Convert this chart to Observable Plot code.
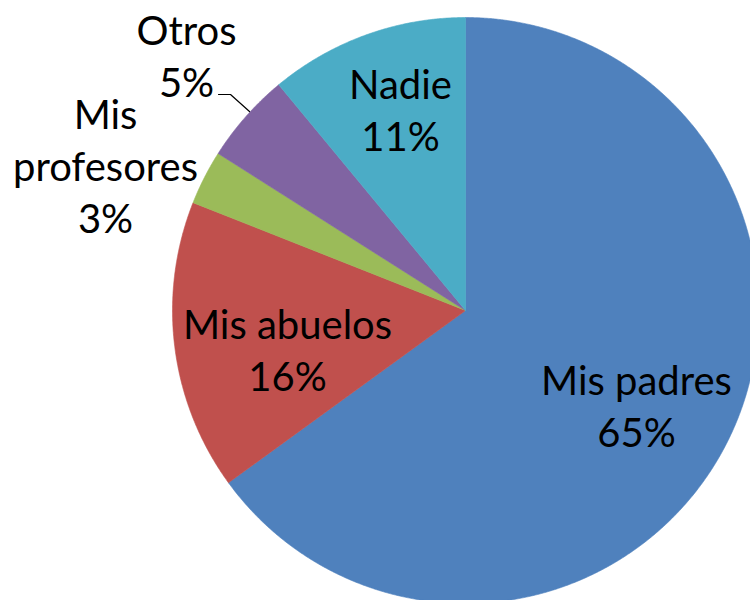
<!DOCTYPE html>
<html>
<head>
<meta charset="utf-8">
<script src="https://cdn.jsdelivr.net/npm/d3@7"></script>
<script src="https://cdn.jsdelivr.net/npm/@observablehq/plot@0.6"></script>
<style>
  html, body { margin: 0; padding: 0; background: #fff; }
  #chart svg { display: block; }
</style>
</head>
<body>
<div id="chart"></div>
<script>
// ---- data ----
const categories = ["Mis padres", "Mis abuelos", "Mis profesores", "Otros", "Nadie"];
const percents = [65, 16, 3, 5, 11];
const labelLines = [["Mis padres", "65%"], ["Mis abuelos", "16%"], ["Mis", "profesores", "3%"], ["Otros", "5%"], ["Nadie", "11%"]];
const colors = ["#4F81BD", "#C0504D", "#9BBB59", "#8064A2", "#4BACC6"];

// ---- layout (pixel units) ----
const W = 750, H = 600;
const CX = 465, CY = 310, R = 293;
const labelPos = [[636, 404], [287, 348], [105, 164], [186, 54], [400, 108]];
const leader = [[218, 94], [230, 94], [249, 111]];

const pie = d3.pie().sort(null).value(d => d.value)
  .startAngle(0).endAngle(2 * Math.PI);
const slices = pie(categories.map((c, i) => ({ name: c, value: percents[i], color: colors[i] })));

const poly = [];
for (const s of slices) {
  const n = Math.max(2, Math.ceil((s.endAngle - s.startAngle) / (Math.PI / 720)));
  poly.push({ name: s.data.name, color: s.data.color, x: CX, y: CY });
  for (let k = 0; k <= n; k++) {
    const a = s.startAngle + (s.endAngle - s.startAngle) * k / n;
    poly.push({ name: s.data.name, color: s.data.color, x: CX + R * Math.sin(a), y: CY - R * Math.cos(a) });
  }
  poly.push({ name: s.data.name, color: s.data.color, x: CX, y: CY });
}

const labels = categories.map((c, i) => ({ text: labelLines[i].join("\n"), x: labelPos[i][0], y: labelPos[i][1] }));
const leaderPts = leader.map(([x, y]) => ({ x, y }));

const chart = Plot.plot({
  width: W, height: H,
  margin: 0,
  x: { domain: [0, W], axis: null },
  y: { domain: [H, 0], axis: null },
  style: { fontFamily: "Lato, 'Liberation Sans', sans-serif", background: "white" },
  marks: [
    Plot.line(poly, { x: "x", y: "y", z: "name", fill: d => d.color, stroke: d => d.color, strokeWidth: 0.6, curve: "linear" }),
    Plot.line(leaderPts, { x: "x", y: "y", stroke: "black", strokeWidth: 1.2 }),
    Plot.text(labels, { x: "x", y: "y", text: "text", fontSize: 40, lineHeight: 1.29, fill: "black", textAnchor: "middle", lineAnchor: "middle" })
  ]
});
document.getElementById("chart").appendChild(chart);
</script>
</body>
</html>
